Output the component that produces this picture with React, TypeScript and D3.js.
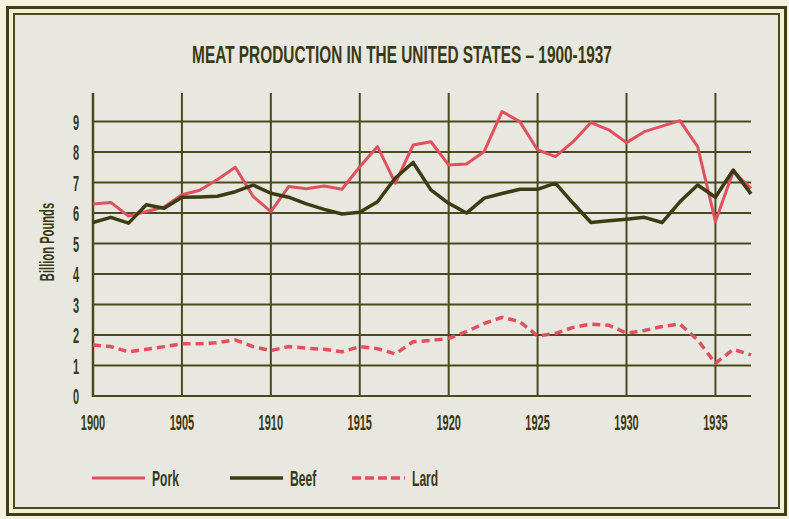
import { useEffect, useRef } from 'react';
import * as d3 from 'd3';

const years = [
  1900, 1901, 1902, 1903, 1904, 1905, 1906, 1907, 1908, 1909,
  1910, 1911, 1912, 1913, 1914, 1915, 1916, 1917, 1918, 1919,
  1920, 1921, 1922, 1923, 1924, 1925, 1926, 1927, 1928, 1929,
  1930, 1931, 1932, 1933, 1934, 1935, 1936, 1937,
];

const pork = [
  6.3, 6.35, 5.9, 6.05, 6.2, 6.6, 6.75, 7.1, 7.5, 6.55,
  6.05, 6.87, 6.8, 6.89, 6.78, 7.52, 8.18, 6.98, 8.23, 8.34,
  7.58, 7.61, 8.02, 9.33, 9.0, 8.07, 7.85, 8.34, 8.97, 8.73,
  8.31, 8.67, 8.85, 9.03, 8.18, 5.72, 7.36, 6.81,
];

const beef = [
  5.69, 5.86, 5.67, 6.27, 6.16, 6.52, 6.53, 6.55, 6.7, 6.92,
  6.65, 6.52, 6.3, 6.12, 5.97, 6.03, 6.37, 7.15, 7.66, 6.76,
  6.32, 6.0, 6.49, 6.64, 6.78, 6.78, 6.98, 6.32, 5.69, 5.75,
  5.8, 5.86, 5.69, 6.37, 6.92, 6.52, 7.41, 6.63,
];

const lard = [
  1.67, 1.62, 1.45, 1.53, 1.62, 1.71, 1.71, 1.75, 1.84, 1.62,
  1.49, 1.62, 1.57, 1.53, 1.45, 1.62, 1.55, 1.38, 1.78, 1.82,
  1.89, 2.11, 2.38, 2.58, 2.44, 1.97, 2.05, 2.25, 2.36, 2.32,
  2.06, 2.15, 2.28, 2.36, 1.84, 1.07, 1.53, 1.35,
];

const xTicks = [1900, 1905, 1910, 1915, 1920, 1925, 1930, 1935];
const yTicks = [0, 1, 2, 3, 4, 5, 6, 7, 8, 9];
const vGrid = [1905, 1910, 1915, 1920, 1925, 1930, 1935];

const title = 'MEAT PRODUCTION IN THE UNITED STATES \u2013 1900-1937';
const yLabel = 'Billion Pounds';

const series = [
  { name: 'Pork', values: pork, color: '#e0505e', width: 3, dash: null },
  { name: 'Beef', values: beef, color: '#3c3c12', width: 3.5, dash: null },
  { name: 'Lard', values: lard, color: '#e0505e', width: 3.5, dash: '8,5' },
];

const FONT = "'Liberation Sans', Arial, sans-serif";
const INK = '#3a3a12';
const GRID = '#4a4a1c';

const App = () => {
  const ref = useRef<HTMLDivElement>(null);

  useEffect(() => {
    const width = 789;
    const height = 519;
    d3.select(ref.current).selectAll('*').remove();

    const svg = d3
      .select(ref.current)
      .append('svg')
      .attr('width', width)
      .attr('height', height)
      .style('display', 'block')
      .attr('font-family', FONT)
      .attr('font-weight', 'bold');

    // narrow text helper (squeezed horizontally for the condensed look)
    const label = (
      px: number,
      py: number,
      txt: string,
      size: number,
      anchor: string,
      squeeze = 0.5,
      rot = 0
    ) => {
      const g = svg
        .append('g')
        .attr('transform', `translate(${px},${py}) rotate(${rot}) scale(${squeeze},1)`);
      return g
        .append('text')
        .attr('text-anchor', anchor)
        .attr('font-size', size)
        .attr('fill', INK)
        .text(txt);
    };

    // paper + double frame
    svg.append('rect').attr('width', width).attr('height', height).attr('fill', '#f4f2de');
    svg
      .append('rect')
      .attr('x', 7.5).attr('y', 7.5)
      .attr('width', 778).attr('height', 507)
      .attr('fill', '#f1efda')
      .attr('stroke', '#3f3f14')
      .attr('stroke-width', 3);
    svg
      .append('rect')
      .attr('x', 14).attr('y', 14)
      .attr('width', 765).attr('height', 494)
      .attr('fill', '#e8e8e0')
      .attr('stroke', '#4a4a1c')
      .attr('stroke-width', 2);

    const x = d3.scaleLinear().domain([1900, 1937]).range([93, 751]);
    const y = d3.scaleLinear().domain([0, 9]).range([396, 121.6]);
    const top = 93;

    // title: measure, then squeeze to the reference width
    const t = label(402, 63, title, 23, 'middle', 1);
    const natural = (t.node() as SVGTextElement).getComputedTextLength() || 700;
    d3.select(t.node()!.parentNode as SVGGElement).attr(
      'transform',
      `translate(402,63) scale(${420 / natural},1)`
    );

    const grid = svg.append('g').attr('stroke', GRID).attr('stroke-width', 2);
    grid
      .selectAll('line.h')
      .data(yTicks)
      .join('line')
      .attr('x1', x(1900))
      .attr('x2', x(1937))
      .attr('y1', (d) => y(d))
      .attr('y2', (d) => y(d));
    grid
      .selectAll('line.v')
      .data(vGrid)
      .join('line')
      .attr('x1', (d) => x(d))
      .attr('x2', (d) => x(d))
      .attr('y1', top)
      .attr('y2', y(0));
    grid
      .append('line')
      .attr('x1', x(1900))
      .attr('x2', x(1900))
      .attr('y1', top)
      .attr('y2', y(0) + 1)
      .attr('stroke-width', 2.5);

    yTicks.forEach((d) => label(79, y(d) + 8, String(d), 22, 'end'));
    xTicks.forEach((d) => label(x(d), 430, String(d), 22, 'middle'));
    label(54, 242, yLabel, 20, 'middle', 0.56, -90);

    const line = d3
      .line<number>()
      .x((_, i) => x(years[i]))
      .y((d) => y(d))
      .curve(d3.curveLinear);

    svg
      .append('g')
      .selectAll('path')
      .data([series[2], series[0], series[1]])
      .join('path')
      .attr('d', (s) => line(s.values))
      .attr('fill', 'none')
      .attr('stroke', (s) => s.color)
      .attr('stroke-width', (s) => s.width)
      .attr('stroke-linejoin', 'round')
      .attr('stroke-dasharray', (s) => s.dash);

    // legend
    const legendX = [92, 230, 352];
    series.forEach((s, i) => {
      svg
        .append('line')
        .attr('x1', legendX[i])
        .attr('x2', legendX[i] + 53)
        .attr('y1', 478)
        .attr('y2', 478)
        .attr('stroke', s.color)
        .attr('stroke-width', s.width)
        .attr('stroke-dasharray', s.dash ? '9,4' : null);
      label(legendX[i] + 60, 486, s.name, 22, 'start', 0.55);
    });
  }, []);

  return <div ref={ref} style={{ position: 'absolute', left: 0, top: 0 }} />;
};

export default App;
